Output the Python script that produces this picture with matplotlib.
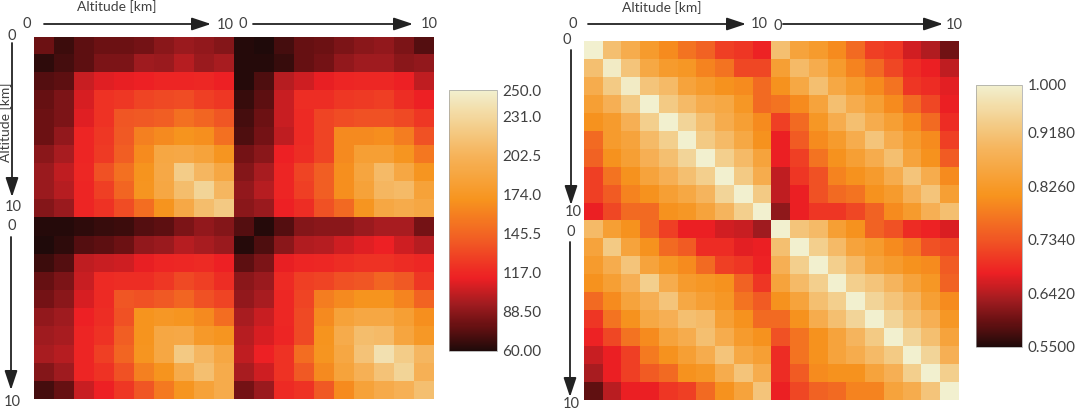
import numpy as np
import matplotlib
matplotlib.use('Agg')
import matplotlib.pyplot as plt
from matplotlib.colors import LinearSegmentedColormap, Normalize
from matplotlib.cm import ScalarMappable

plt.rcParams['font.family'] = ['Lato', 'DejaVu Sans']

W, H = 1078, 411

# covariance, km^2-ish units, 2 x 10 altitude levels
cov = [
    [80, 68, 76, 80, 80, 82, 88, 92, 90, 86, 62, 60, 70, 78, 80, 84, 88, 90, 84, 74],
    [64, 70, 76, 84, 84, 94, 92, 100, 92, 96, 62, 62, 66, 78, 82, 90, 94, 94, 88, 90],
    [74, 76, 104, 110, 112, 114, 116, 116, 117, 114, 62, 72, 100, 106, 112, 116, 117, 117, 114, 102],
    [78, 84, 108, 122, 124, 130, 132, 134, 128, 124, 66, 76, 104, 120, 120, 124, 126, 127, 120, 114],
    [80, 84, 110, 122, 138, 140, 142, 152, 146, 138, 70, 80, 104, 118, 130, 134, 136, 136, 132, 124],
    [80, 90, 116, 124, 140, 160, 165, 170, 168, 152, 72, 82, 102, 118, 130, 165, 165, 167, 158, 136],
    [88, 96, 116, 126, 142, 166, 190, 192, 186, 172, 82, 88, 114, 120, 130, 165, 182, 182, 172, 155],
    [92, 102, 117, 136, 152, 170, 192, 222, 205, 190, 86, 96, 116, 130, 142, 168, 188, 208, 190, 172],
    [92, 100, 116, 128, 146, 172, 190, 210, 228, 205, 90, 100, 116, 128, 142, 168, 185, 205, 208, 185],
    [86, 92, 116, 122, 134, 150, 170, 192, 210, 220, 88, 92, 114, 120, 136, 148, 172, 190, 195, 190],
    [62, 62, 64, 66, 68, 74, 76, 84, 90, 86, 74, 62, 74, 86, 88, 88, 92, 96, 96, 82],
    [60, 64, 74, 76, 80, 90, 92, 100, 96, 92, 62, 72, 88, 98, 100, 106, 110, 114, 106, 100],
    [68, 74, 102, 104, 106, 112, 116, 117, 118, 114, 76, 84, 112, 116, 117, 120, 122, 122, 119, 117],
    [78, 84, 104, 118, 120, 120, 124, 132, 128, 120, 88, 92, 118, 128, 130, 136, 138, 146, 140, 124],
    [82, 88, 108, 118, 138, 136, 140, 146, 136, 130, 90, 96, 117, 130, 158, 165, 170, 170, 162, 145],
    [90, 94, 114, 120, 136, 170, 174, 172, 165, 150, 96, 104, 117, 132, 165, 185, 190, 190, 182, 168],
    [94, 96, 116, 122, 142, 170, 190, 192, 176, 172, 100, 108, 116, 132, 170, 195, 210, 208, 188, 175],
    [96, 100, 116, 128, 146, 172, 190, 220, 205, 190, 102, 114, 122, 150, 172, 190, 215, 238, 222, 205],
    [86, 94, 116, 122, 136, 160, 170, 195, 212, 195, 96, 106, 122, 140, 165, 186, 200, 215, 228, 200],
    [70, 78, 104, 114, 124, 138, 156, 172, 185, 195, 82, 92, 118, 122, 140, 166, 185, 194, 200, 212],
]

corr = [
    [1.0, .91, .87, .83, .80, .77, .75, .71, .70, .68, .91, .85, .83, .80, .76, .71, .70, .66, .64, .60],
    [.91, .99, .92, .86, .83, .82, .79, .77, .72, .72, .84, .90, .87, .83, .79, .76, .72, .69, .675, .65],
    [.87, .93, .99, .92, .90, .85, .83, .81, .80, .76, .81, .86, .91, .86, .83, .80, .77, .70, .69, .67],
    [.84, .88, .93, 1.0, .93, .90, .87, .86, .82, .76, .77, .80, .85, .91, .87, .84, .80, .76, .72, .675],
    [.81, .83, .88, .94, 1.0, .95, .91, .87, .84, .80, .71, .76, .82, .87, .91, .87, .84, .80, .76, .69],
    [.76, .83, .85, .90, .94, 1.0, .93, .90, .86, .81, .675, .74, .80, .83, .87, .92, .87, .83, .80, .71],
    [.75, .81, .84, .88, .91, .95, 1.0, .94, .90, .85, .675, .71, .77, .81, .84, .87, .91, .85, .81, .74],
    [.71, .77, .81, .85, .88, .91, .94, 1.0, .93, .87, .65, .70, .73, .79, .81, .83, .87, .92, .87, .80],
    [.71, .74, .79, .81, .84, .86, .89, .95, 1.0, .93, .65, .675, .73, .76, .77, .81, .83, .88, .92, .84],
    [.675, .72, .76, .76, .81, .82, .85, .89, .94, 1.0, .62, .675, .70, .70, .72, .75, .80, .83, .88, .91],
    [.90, .84, .81, .76, .71, .675, .675, .66, .655, .63, 1.0, .92, .90, .84, .81, .75, .73, .69, .68, .665],
    [.85, .93, .85, .81, .76, .74, .69, .69, .67, .675, .91, 1.0, .94, .90, .85, .83, .80, .78, .73, .72],
    [.83, .87, .92, .85, .82, .80, .76, .71, .70, .68, .88, .94, 1.0, .94, .90, .85, .83, .81, .80, .74],
    [.81, .84, .88, .94, .87, .83, .82, .81, .75, .70, .85, .90, .94, 1.0, .94, .92, .89, .85, .82, .75],
    [.76, .80, .85, .88, .92, .86, .84, .82, .77, .74, .81, .85, .91, .94, 1.0, .95, .92, .89, .84, .80],
    [.70, .77, .81, .86, .88, .91, .90, .84, .81, .76, .76, .81, .87, .91, .95, 1.0, .95, .91, .88, .82],
    [.68, .72, .77, .80, .85, .87, .91, .87, .83, .81, .73, .77, .81, .85, .89, .93, 1.0, .95, .91, .85],
    [.655, .675, .71, .78, .81, .84, .87, .92, .86, .84, .69, .77, .81, .85, .87, .90, .93, 1.0, .95, .88],
    [.635, .675, .71, .74, .76, .81, .82, .87, .92, .87, .69, .74, .80, .81, .81, .85, .88, .94, 1.0, .94],
    [.59, .645, .675, .675, .70, .71, .76, .81, .85, .92, .675, .72, .75, .76, .79, .79, .85, .87, .92, 1.0],
]

cov_ticks = [60.0, 88.5, 117.0, 145.5, 174.0, 202.5, 231.0, 250.0]
cov_labels = ['60.00', '88.50', '117.0', '145.5', '174.0', '202.5', '231.0', '250.0']
corr_ticks = [0.55, 0.642, 0.734, 0.826, 0.918, 1.0]
corr_labels = ['0.5500', '0.6420', '0.7340', '0.8260', '0.9180', '1.000']

heat = LinearSegmentedColormap.from_list('heat', [
    (0.00, '#1f0a0a'), (0.03, '#360c0c'), (0.10, '#6b1113'), (0.18, '#a21c20'),
    (0.28, '#ed2024'), (0.42, '#f15a24'), (0.58, '#f7941e'), (0.75, '#f6b35a'),
    (0.87, '#f3d08f'), (1.00, '#f2f0cf'),
])

TEXT = '#404040'


def px_axes(fig, x0, y0, x1, y1):
    # axes box given in pixels from the top left corner
    return fig.add_axes([x0 / W, 1 - y1 / H, (x1 - x0) / W, (y1 - y0) / H])


def heatmap(fig, data, box, vmin, vmax):
    ax = px_axes(fig, *box)
    ax.imshow(np.array(data), cmap=heat, vmin=vmin, vmax=vmax, aspect='auto',
              interpolation='nearest')
    ax.axis('off')


def colorbar(fig, box, vmin, vmax, ticks, labels):
    cax = px_axes(fig, *box)
    sm = ScalarMappable(Normalize(vmin, vmax), heat)
    cb = fig.colorbar(sm, cax=cax, ticks=ticks)
    cb.ax.set_yticklabels(labels, fontsize=11, color=TEXT)
    cb.ax.tick_params(length=0, pad=4)
    cb.outline.set_edgecolor('#a0a0a0')
    cb.outline.set_linewidth(0.5)


def arrow(ov, x0, y0, x1, y1):
    ov.annotate('', xy=(x1, y1), xytext=(x0, y0),
                arrowprops=dict(arrowstyle='-|>,head_length=0.9,head_width=0.3',
                                color='#222222', lw=1.3, mutation_scale=13,
                                shrinkA=0, shrinkB=0))


def label(ov, x, y, s, size=10.5, **kw):
    ov.text(x, y, s, fontsize=size, color=TEXT, ha='center', va='center', **kw)


fig = plt.figure(figsize=(W / 100, H / 100), dpi=100)

heatmap(fig, cov, (34, 37, 434, 399), 60, 250)
heatmap(fig, corr, (584, 41, 958, 400), 0.55, 1.0)
colorbar(fig, (449, 90, 497, 351), 60, 250, cov_ticks, cov_labels)
colorbar(fig, (976, 85, 1022, 347), 0.55, 1.0, corr_ticks, corr_labels)

# overlay in pixel coordinates for the axis arrows and their labels
ov = fig.add_axes([0, 0, 1, 1], zorder=5)
ov.set_xlim(0, W)
ov.set_ylim(H, 0)
ov.axis('off')
ov.patch.set_alpha(0)

# left panel
label(ov, 117, 7, 'Altitude [km]', size=10)
label(ov, 6, 122, 'Altitude [km]', size=10, rotation=90)
arrow(ov, 44, 24, 211, 24)
arrow(ov, 253, 24, 413, 24)
arrow(ov, 12, 43, 12, 197)
arrow(ov, 11, 237, 11, 390)
for x, y, s in [(27, 24, '0'), (225, 25, '10'), (243, 24, '0'), (429, 24, '10'),
                (12, 36, '0'), (13, 207, '10'), (12, 226, '0'), (12, 402, '10')]:
    label(ov, x, y, s)

# right panel
label(ov, 662, 8, 'Altitude [km]', size=10)
arrow(ov, 588, 24, 746, 24)
arrow(ov, 783, 24, 943, 24)
arrow(ov, 571, 50, 571, 205)
arrow(ov, 570, 242, 570, 397)
for x, y, s in [(573, 24, '0'), (759, 24, '10'), (778, 26, '0'), (954, 25, '10'),
                (567, 40, '0'), (573, 212, '10'), (571, 232, '0'), (571, 404, '10')]:
    label(ov, x, y, s)

fig.savefig('out.png', dpi=100)
